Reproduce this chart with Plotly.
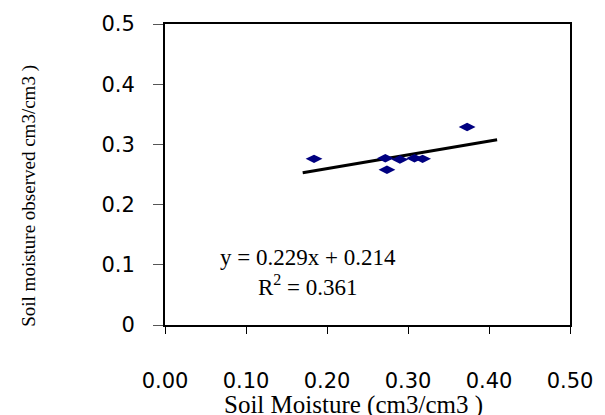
import plotly.graph_objects as go

# Observed vs. estimated soil moisture (cm3/cm3)
moisture_x = [0.184, 0.272, 0.274, 0.290, 0.308, 0.318, 0.373]
observed_y = [0.276, 0.277, 0.258, 0.275, 0.277, 0.276, 0.329]

# Linear trendline and its fit statistics
slope = 0.229
intercept = 0.214
r_squared = 0.361
trend_x = [0.17, 0.41]
trend_y = [slope * v + intercept for v in trend_x]

x_ticks = [0.0, 0.1, 0.2, 0.3, 0.4, 0.5]
x_tick_text = ["0.00", "0.10", "0.20", "0.30", "0.40", "0.50"]
y_ticks = [0.0, 0.1, 0.2, 0.3, 0.4, 0.5]
y_tick_text = ["0", "0.1", "0.2", "0.3", "0.4", "0.5"]

tick_font = dict(family="DejaVu Sans", size=21, color="black")
serif = "Liberation Serif"

fig = go.Figure()

fig.add_trace(go.Scatter(
    x=trend_x, y=trend_y, mode="lines",
    line=dict(color="black", width=3),
    showlegend=False, hoverinfo="skip",
))

fig.add_trace(go.Scatter(
    x=moisture_x, y=observed_y, mode="markers",
    marker=dict(symbol="diamond-wide", size=12, color="#000080",
                line=dict(width=0)),
    showlegend=False,
))

fig.add_annotation(
    xref="paper", yref="paper",
    x=(310 - 165) / 412, y=(325 - 272) / 302,
    text=f"y = {slope}x + {intercept}<br>R<sup>2</sup> = {r_squared}",
    showarrow=False, align="center",
    font=dict(family=serif, size=23, color="black"),
    xanchor="center", yanchor="middle",
)

# Axis titles
fig.add_annotation(
    xref="paper", yref="paper",
    x=(357 - 165) / 412, y=(325 - 405) / 302,
    text="Soil Moisture (cm3/cm3 )",
    showarrow=False,
    font=dict(family=serif, size=25, color="black"),
    xanchor="center", yanchor="middle",
)
fig.add_annotation(
    xref="paper", yref="paper",
    x=(27 - 165) / 412, y=(325 - 195) / 302,
    text="Soil moisture observed cm3/cm3 )",
    textangle=-90, showarrow=False,
    font=dict(family=serif, size=19, color="black"),
    xanchor="center", yanchor="middle",
)

fig.update_xaxes(
    range=[0, 0.5], tickvals=x_ticks, ticktext=x_tick_text,
    showgrid=False, zeroline=False,
    showline=True, linecolor="black", linewidth=2, mirror=True,
    ticks="outside", ticklen=7, tickwidth=1, tickcolor="black",
    tickfont=tick_font, ticklabelstandoff=29,
)
fig.update_yaxes(
    range=[0, 0.5], tickvals=y_ticks, ticktext=y_tick_text,
    showgrid=False, zeroline=False,
    showline=True, linecolor="black", linewidth=2, mirror=True,
    ticks="outside", ticklen=10, tickwidth=1, tickcolor="#555555",
    tickfont=tick_font, ticklabelstandoff=14,
)

fig.update_layout(
    width=605, height=415,
    margin=dict(l=165, r=28, t=23, b=90),
    paper_bgcolor="white", plot_bgcolor="white",
    showlegend=False,
)

fig.write_html("out.html")
